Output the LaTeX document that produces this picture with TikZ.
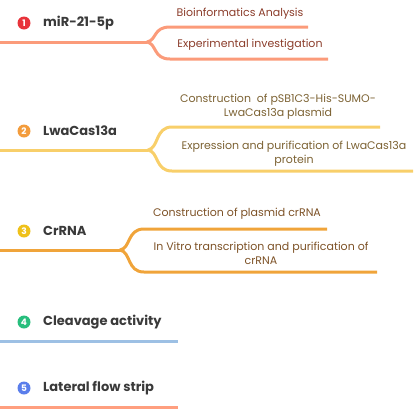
\documentclass[tikz,border=0pt]{standalone}
\usepackage{fontspec}
\setmainfont{Poppins}
\definecolor{lineA}{HTML}{FB9B7A}
\definecolor{lineB}{HTML}{F8CF6A}
\definecolor{lineC}{HTML}{F0A43A}
\definecolor{lineD}{HTML}{9DC0E4}
\definecolor{lineE}{HTML}{FF9F7F}
\definecolor{dotA}{HTML}{E8333A}
\definecolor{dotB}{HTML}{F39C3C}
\definecolor{dotC}{HTML}{EFC11A}
\definecolor{dotD}{HTML}{27BE7D}
\definecolor{dotE}{HTML}{5A7EEB}
\definecolor{maintext}{HTML}{3A3A3A}
\definecolor{txtA}{HTML}{8B3D2B}
\definecolor{txtB}{HTML}{7C6233}
\definecolor{txtC}{HTML}{7D5227}
\tikzset{
  numdot/.style={circle,fill=#1,text=white,inner sep=0pt,minimum size=13pt,font=\fontsize{9}{9}\selectfont\bfseries},
  mainlabel/.style={anchor=west,text=maintext,inner sep=0pt,font=\fontsize{13}{15}\selectfont\bfseries},
  sublabel/.style={text=#1,inner sep=0pt,align=center,font=\fontsize{11}{14}\selectfont},
  branch/.style={draw=#1,line width=3pt},
}
\begin{document}
\begin{tikzpicture}[x=1pt,y=-1pt]
\useasboundingbox (0,0) rectangle (417,413);
% Row 1
\node[numdot=dotA] (d1) at (24,23) {1};
\node[mainlabel] (m1) at (43,23) {miR-21-5p};
\coordinate (s1) at (0,42);
\coordinate (c1) at (147,42);
\coordinate (u1) at (308,27);
\coordinate (l1) at (328,59);
\draw[branch=lineA] (s1) -- (c1);
\draw[branch=lineA] (c1) .. controls (157,40) and (153,27) .. (170,27) -- (u1);
\draw[branch=lineA] (c1) .. controls (157,44) and (153,59) .. (170,59) -- (l1);
\node[sublabel=txtA] (t1a) at (240,14) {Bioinformatics Analysis};
\node[sublabel=txtA] (t1b) at (250,45) {Experimental investigation};
% Row 2
\node[numdot=dotB] (d2) at (24,131) {2};
\node[mainlabel] (m2) at (43,131) {LwaCas13a};
\coordinate (s2) at (0,150);
\coordinate (c2) at (148,150);
\coordinate (u2) at (380,127);
\coordinate (l2) at (413,171);
\draw[branch=lineB] (s2) -- (c2);
\draw[branch=lineB] (c2) .. controls (159,148) and (155,127) .. (172,127) -- (u2);
\draw[branch=lineB] (c2) .. controls (159,152) and (155,171) .. (172,171) -- (l2);
\node[sublabel=txtB] (t2a) at (278,107) {Construction\ \ of pSB1C3-His-SUMO-\\LwaCas13a plasmid};
\node[sublabel=txtB] (t2b) at (294,153.5) {Expression and purification of LwaCas13a\\protein};
% Row 3
\node[numdot=dotC] (d3) at (24,231) {3};
\node[mainlabel] (m3) at (43,231) {CrRNA};
\coordinate (s3) at (0,250);
\coordinate (c3) at (120,250);
\coordinate (u3) at (327,229);
\coordinate (l3) at (377,272);
\draw[branch=lineC] (s3) -- (c3);
\draw[branch=lineC] (c3) .. controls (131,248) and (127,229) .. (144,229) -- (u3);
\draw[branch=lineC] (c3) .. controls (131,252) and (127,272) .. (144,272) -- (l3);
\node[sublabel=txtC] (t3a) at (237,214) {Construction of plasmid crRNA};
\node[sublabel=txtC] (t3b) at (261,253) {In Vitro transcription and purification of\\crRNA};
% Row 4
\node[numdot=dotD] (d4) at (24,322) {4};
\node[mainlabel] (m4) at (43,322) {Cleavage activity};
\coordinate (s4) at (0,341);
\coordinate (e4) at (178,341);
\draw[branch=lineD] (s4) -- (e4);
% Row 5
\node[numdot=dotE] (d5) at (24,388) {5};
\node[mainlabel] (m5) at (43,388) {Lateral flow strip};
\coordinate (s5) at (0,407);
\coordinate (e5) at (178,407);
\draw[branch=lineE] (s5) -- (e5);
\end{tikzpicture}
\end{document}
